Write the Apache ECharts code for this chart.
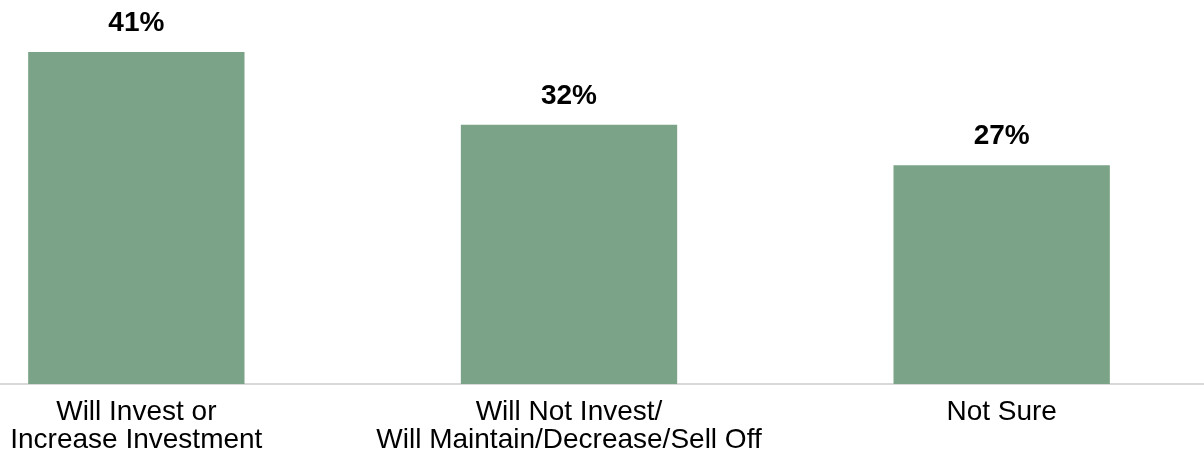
<!DOCTYPE html>
<html>
<head>
<meta charset="utf-8">
<script src="https://cdn.jsdelivr.net/npm/echarts@6/dist/echarts.min.js"></script>
<style>
html,body{margin:0;padding:0;background:#fff;overflow:hidden;width:1204px;height:458px;}
#wrap{position:relative;width:1204px;height:458px;overflow:hidden;}
#chart{position:absolute;left:-80px;top:0;width:1298px;height:458px;}
</style>
</head>
<body>
<div id="wrap"><div id="chart"></div></div>
<script>
var categories = ["Will Invest or\nIncrease Investment", "Will Not Invest/\nWill Maintain/Decrease/Sell Off", "Not Sure"];
var values = [41, 32, 27];

var chart = echarts.init(document.getElementById('chart'), null, {renderer: 'canvas'});
chart.setOption({
  animation: false,
  backgroundColor: '#ffffff',
  grid: {left: 0, right: 0, top: 19.5, bottom: 74, containLabel: false},
  xAxis: {
    type: 'category',
    data: categories,
    axisLine: {show: true, lineStyle: {color: '#d9d9d9', width: 2}},
    axisTick: {show: false},
    axisLabel: {
      color: '#000000',
      fontFamily: 'Liberation Sans, Arial, sans-serif',
      fontSize: 28,
      lineHeight: 28,
      margin: 14,
      interval: 0
    }
  },
  yAxis: {
    type: 'value',
    min: 0,
    max: 45,
    show: false,
    splitLine: {show: false}
  },
  series: [{
    type: 'bar',
    data: values,
    barWidth: '50%',
    itemStyle: {color: '#7aa387'},
    label: {
      show: true,
      position: 'top',
      distance: 15,
      formatter: '{c}%',
      color: '#000000',
      fontWeight: 'bold',
      fontFamily: 'Liberation Sans, Arial, sans-serif',
      fontSize: 28
    }
  }]
});
</script>
</body>
</html>
